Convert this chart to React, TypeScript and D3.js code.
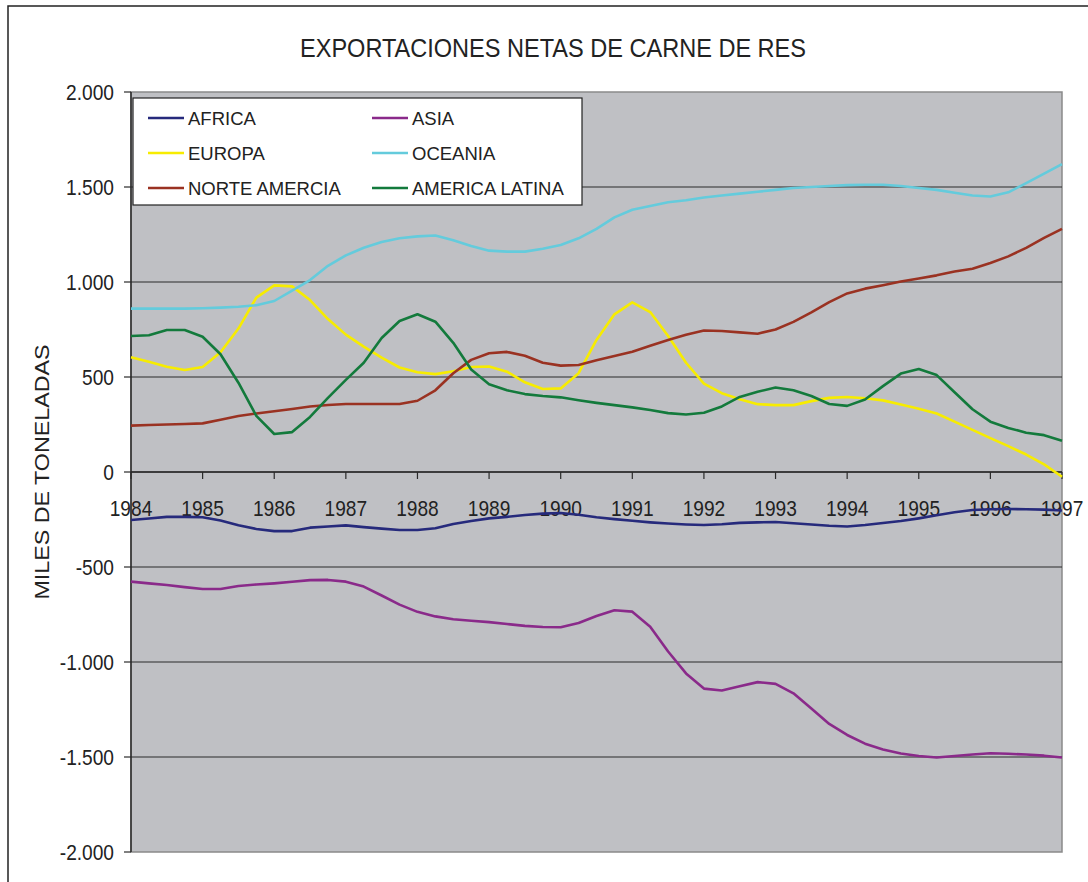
import React from "react";
import * as d3 from "d3";

const TITLE = "EXPORTACIONES NETAS DE CARNE DE RES";
const Y_TITLE = "MILES DE TONELADAS";
const YEARS = [1984, 1985, 1986, 1987, 1988, 1989, 1990, 1991, 1992, 1993, 1994, 1995, 1996, 1997];
const Y_TICKS = [2000, 1500, 1000, 500, 0, -500, -1000, -1500, -2000];
const Y_TICK_LABELS = ["2.000", "1.500", "1.000", "500", "0", "-500", "-1.000", "-1.500", "-2.000"];

// quarterly readings, 1984.00 .. 1997.00
const AFRICA = [-253, -245, -236, -236, -238, -255, -280, -300, -311, -311, -293, -287, -281, -290, -298, -305, -305, -296, -274, -258, -244, -236, -226, -219, -216, -225, -238, -248, -257, -265, -271, -276, -279, -275, -268, -265, -263, -270, -276, -283, -287, -279, -268, -258, -244, -228, -212, -200, -196, -195, -196, -198, -203];
const ASIA = [-577, -586, -595, -606, -616, -616, -600, -592, -586, -578, -569, -568, -577, -603, -650, -698, -736, -760, -775, -783, -790, -800, -810, -816, -817, -795, -758, -728, -735, -814, -945, -1060, -1140, -1150, -1128, -1106, -1115, -1165, -1245, -1326, -1384, -1430, -1460, -1482, -1495, -1503, -1495, -1487, -1480, -1483, -1487, -1493, -1503];
const EUROPA = [604, 580, 554, 537, 553, 630, 755, 918, 982, 977, 905, 805, 723, 660, 602, 550, 525, 515, 530, 553, 555, 528, 472, 437, 440, 520, 695, 830, 893, 842, 716, 575, 465, 415, 383, 357, 352, 352, 373, 390, 395, 388, 377, 355, 333, 308, 265, 222, 178, 136, 92, 40, -25];
const OCEANIA = [860, 860, 860, 860, 862, 865, 870, 878, 900, 955, 1010, 1085, 1140, 1180, 1210, 1230, 1240, 1245, 1220, 1190, 1165, 1160, 1160, 1175, 1195, 1230, 1280, 1340, 1380, 1400, 1420, 1430, 1445, 1455, 1465, 1475, 1485, 1495, 1500, 1505, 1510, 1512, 1512, 1505, 1495, 1485, 1470, 1455, 1450, 1472, 1520, 1570, 1620];
const NORTE_AMERCIA = [244, 247, 250, 253, 256, 275, 295, 308, 320, 332, 345, 353, 358, 358, 358, 358, 375, 430, 520, 590, 625, 632, 612, 575, 560, 563, 588, 610, 633, 665, 695, 722, 745, 742, 735, 728, 750, 790, 840, 894, 940, 965, 983, 1003, 1018, 1035, 1055, 1070, 1100, 1135, 1180, 1232, 1280];
const AMERICA_LATINA = [716, 720, 747, 747, 712, 620, 470, 295, 200, 210, 290, 390, 485, 575, 705, 795, 830, 791, 680, 540, 462, 430, 410, 400, 393, 378, 364, 352, 340, 326, 310, 303, 312, 345, 395, 422, 445, 430, 400, 358, 348, 382, 452, 518, 542, 510, 420, 330, 265, 232, 207, 194, 165];

const SERIES_NAMES = ["AFRICA", "ASIA", "EUROPA", "OCEANIA", "NORTE AMERCIA", "AMERICA LATINA"];
const SERIES_VALUES = [AFRICA, ASIA, EUROPA, OCEANIA, NORTE_AMERCIA, AMERICA_LATINA];
const SERIES_COLORS = ["#262a7c", "#8a2a8a", "#f7ec00", "#64cbdc", "#9a3222", "#137a3c"];

const FONT = "'Liberation Sans', Arial, Helvetica, sans-serif";

export default function App() {
  const W = 1088, H = 882;
  const left = 131, right = 1062, top = 92, bottom = 852;
  const x = d3.scaleLinear().domain([1984, 1997]).range([left, right]);
  const y = d3.scaleLinear().domain([-2000, 2000]).range([bottom, top]);
  const line = d3.line<[number, number]>().x((d) => x(d[0])).y((d) => y(d[1])).curve(d3.curveLinear);

  const legendCols = [148, 372];
  const legendRows = [118, 153, 188];

  return (
    <div style={{ position: "absolute", left: 0, top: 0 }}>
      <svg width={W} height={H} style={{ display: "block", background: "#fff" }}>
        {/* outer frame */}
        <path d={`M8,${H} L8,6 L${W},6`} fill="none" stroke="#222" strokeWidth={1.5} />
        {/* title */}
        <text x={300} y={57} fontFamily={FONT} fontSize={26} fill="#222" textLength={506} lengthAdjust="spacingAndGlyphs">{TITLE}</text>
        {/* plot area */}
        <rect x={left} y={top} width={right - left} height={bottom - top} fill="#bfc0c4" stroke="#8a8a8a" strokeWidth={1.5} />
        {/* gridlines */}
        {Y_TICKS.filter((t) => t !== 2000 && t !== -2000).map((t) => (
          <line key={t} x1={left} x2={right} y1={y(t)} y2={y(t)} stroke="#2a2a2a" strokeWidth={1.2} />
        ))}
        {/* y axis */}
        <line x1={left} x2={left} y1={top} y2={bottom} stroke="#2a2a2a" strokeWidth={1.5} />
        {Y_TICKS.map((t, i) => (
          <g key={t}>
            <line x1={left - 7} x2={left} y1={y(t)} y2={y(t)} stroke="#2a2a2a" strokeWidth={1.2} />
            <text transform={`translate(114,${y(t) + 8}) scale(0.87,1)`} textAnchor="end" fontFamily={FONT} fontSize={22} fill="#222">{Y_TICK_LABELS[i]}</text>
          </g>
        ))}
        {/* x axis at 0 */}
        <line x1={left} x2={right} y1={y(0)} y2={y(0)} stroke="#2a2a2a" strokeWidth={1.5} />
        {YEARS.map((yr) => (
          <g key={yr}>
            <line x1={x(yr)} x2={x(yr)} y1={y(0)} y2={y(0) + 7} stroke="#2a2a2a" strokeWidth={1.2} />
            <text transform={`translate(${x(yr)},${y(0) + 44}) scale(0.87,1)`} textAnchor="middle" fontFamily={FONT} fontSize={22} fill="#222">{yr}</text>
          </g>
        ))}
        {/* y title */}
        <text transform={`translate(49,472) rotate(-90)`} textAnchor="middle" fontFamily={FONT} fontSize={20} fill="#222" textLength={255} lengthAdjust="spacingAndGlyphs">{Y_TITLE}</text>
        {/* series */}
        {SERIES_VALUES.map((vals, si) => {
          const pts: [number, number][] = vals.map((v, k) => [1984 + k * 0.25, v]);
          return <path key={si} d={line(pts) || ""} fill="none" stroke={SERIES_COLORS[si]} strokeWidth={2.6} strokeLinejoin="round" />;
        })}
        {/* legend */}
        <rect x={133} y={98} width={449} height={107} fill="#fff" stroke="#222" strokeWidth={1.2} />
        {SERIES_NAMES.map((name, i) => {
          const cx = legendCols[i % 2];
          const cy = legendRows[Math.floor(i / 2)];
          return (
            <g key={name}>
              <line x1={cx} x2={cx + 36} y1={cy} y2={cy} stroke={SERIES_COLORS[i]} strokeWidth={2.6} />
              <text x={cx + 40} y={cy + 7} fontFamily={FONT} fontSize={18.5} fill="#222">{name}</text>
            </g>
          );
        })}
      </svg>
    </div>
  );
}
